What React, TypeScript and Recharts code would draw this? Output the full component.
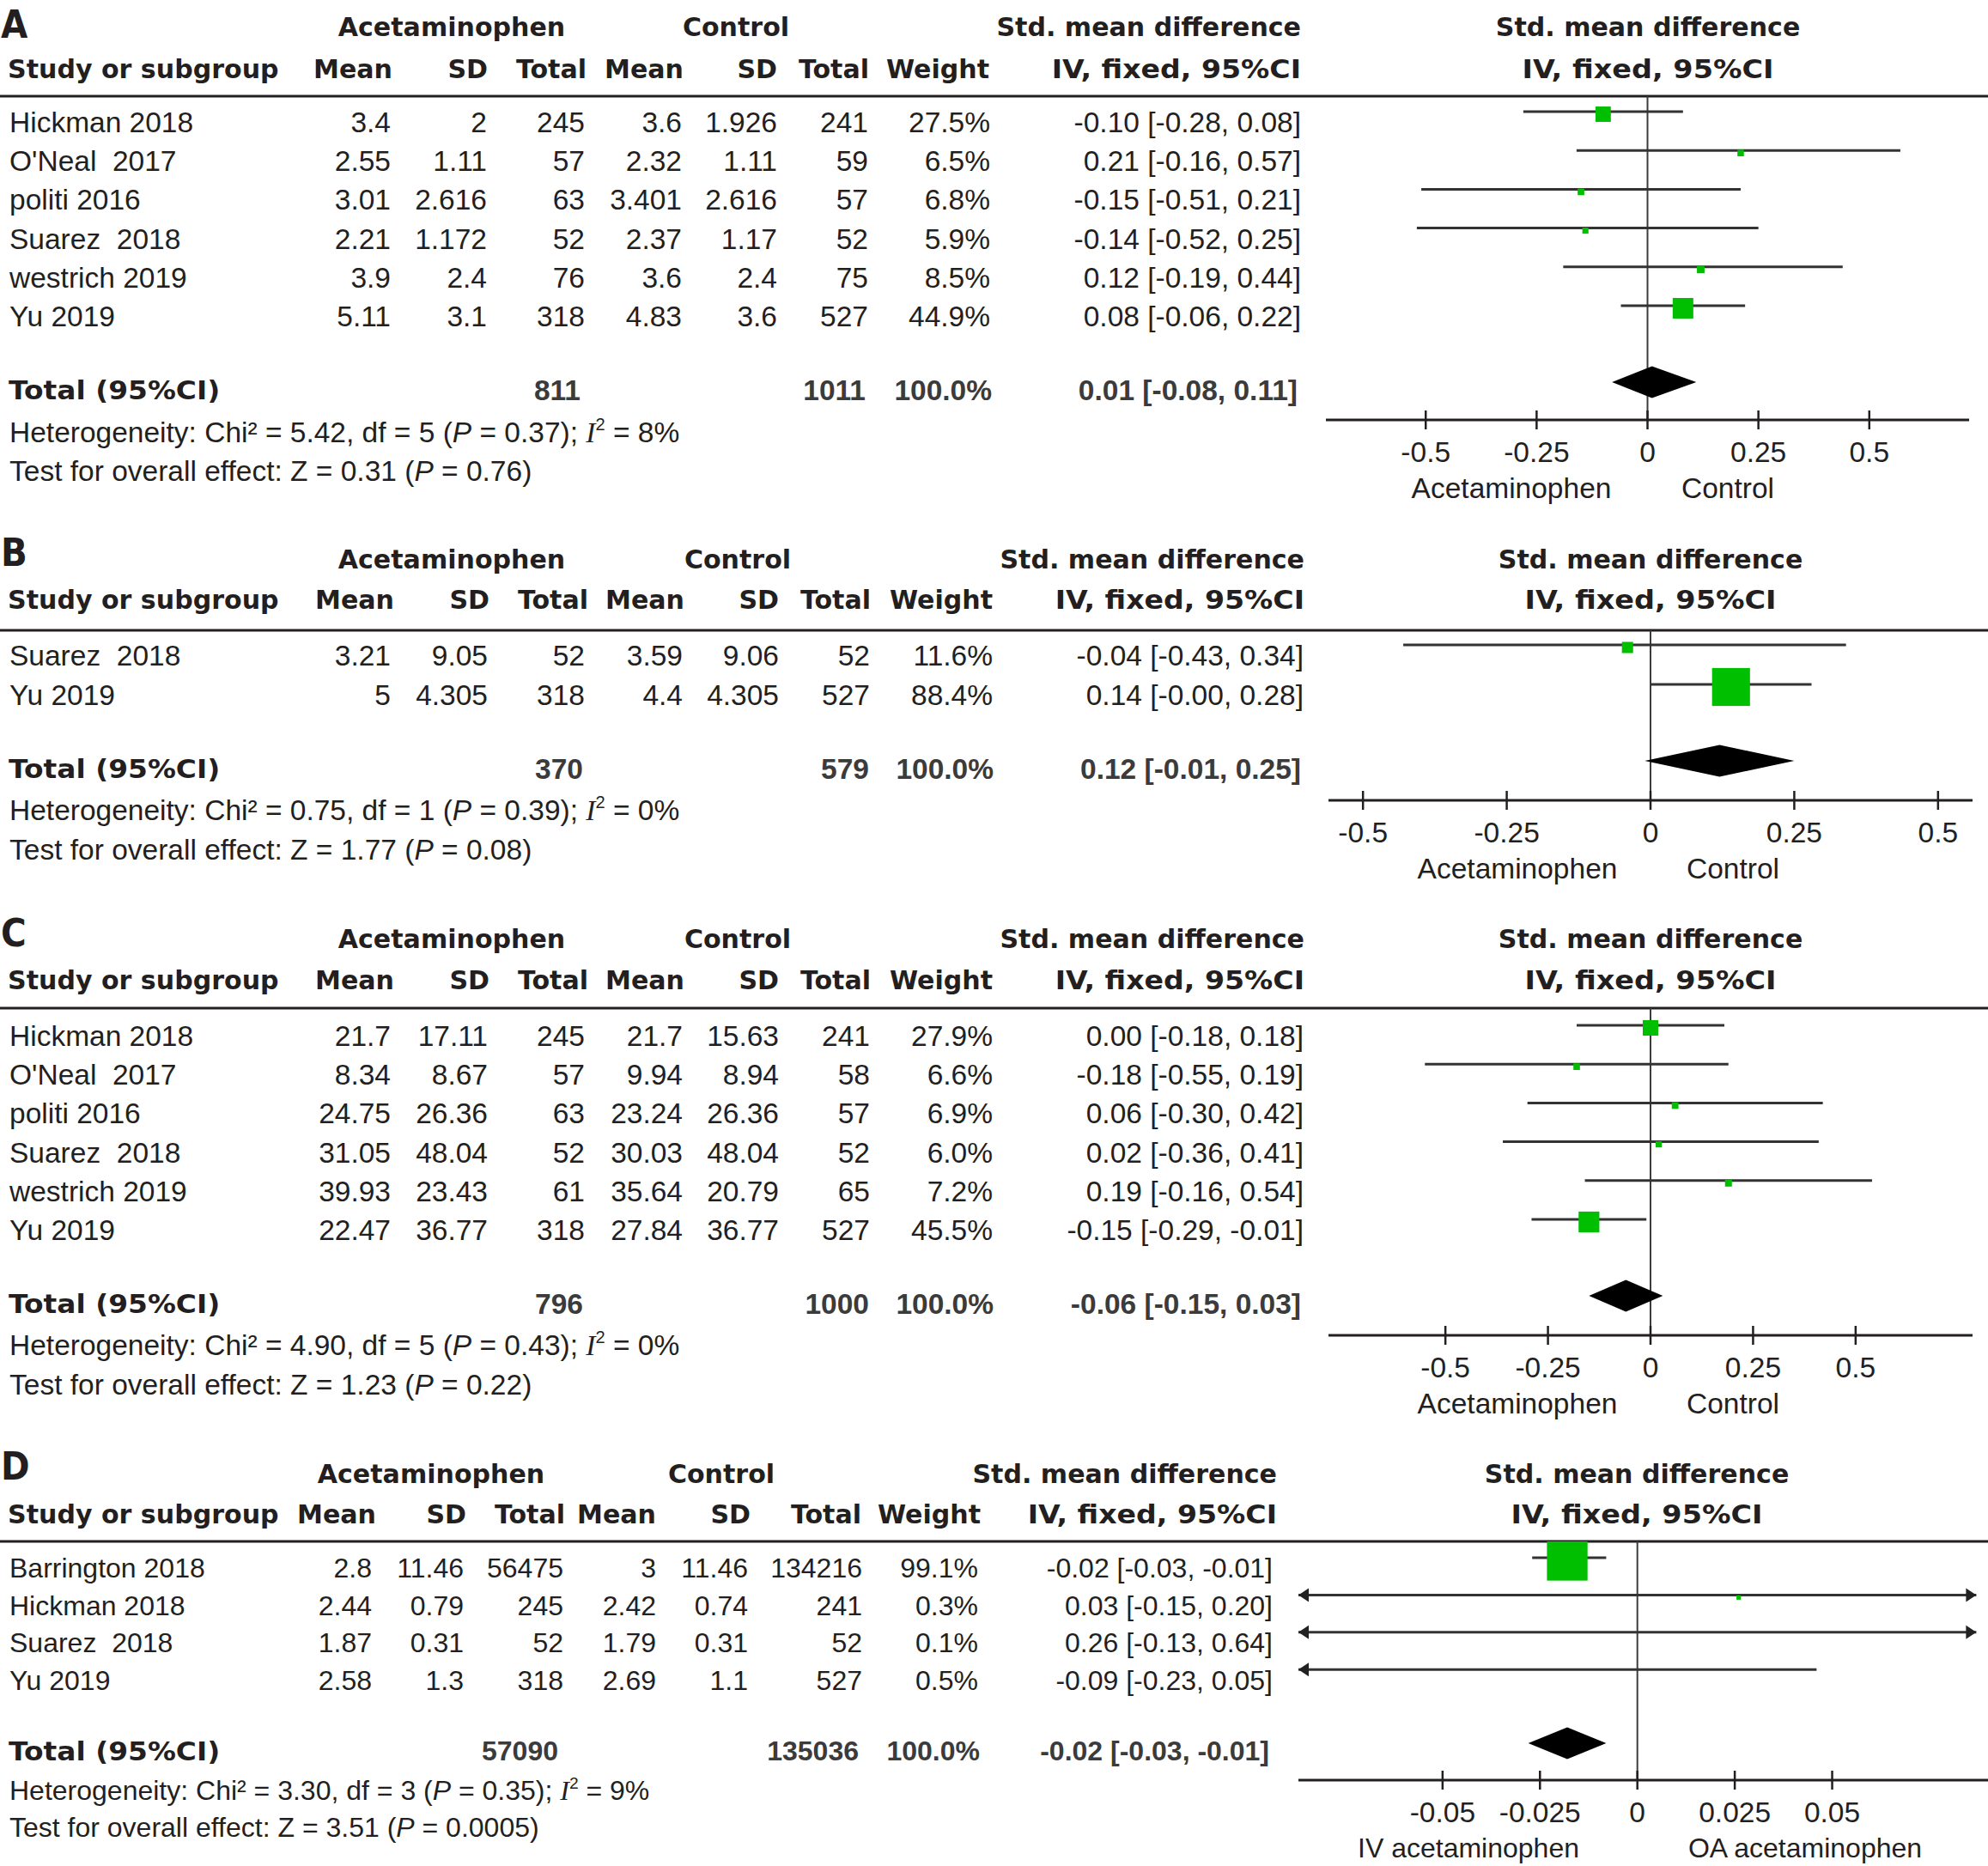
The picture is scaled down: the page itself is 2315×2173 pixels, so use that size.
import React from 'react';
import { ScatterChart, Scatter, XAxis, YAxis, ReferenceLine } from 'recharts';

const W = 2315;
const H = 2173;
const INK = '#231f20';
const GREEN = '#00bf00';
const SANS = '"Liberation Sans", Arial, sans-serif';
const HEAD = '"DejaVu Sans", Verdana, sans-serif';
const SERIF = '"Liberation Serif", "Times New Roman", serif';
const HSX = 0.97;
const AXIS_H = 70;

// ---- A ----
const aStudy = ['Hickman 2018', "O'Neal  2017", 'politi 2016', 'Suarez  2018', 'westrich 2019', 'Yu 2019'];
const aAcetMean = [3.4, 2.55, 3.01, 2.21, 3.9, 5.11];
const aAcetSd = [2, 1.11, 2.616, 1.172, 2.4, 3.1];
const aAcetN = [245, 57, 63, 52, 76, 318];
const aCtrlMean = [3.6, 2.32, 3.401, 2.37, 3.6, 4.83];
const aCtrlSd = [1.926, 1.11, 2.616, 1.17, 2.4, 3.6];
const aCtrlN = [241, 59, 57, 52, 75, 527];
const aWeight = [27.5, 6.5, 6.8, 5.9, 8.5, 44.9];
const aSmd = [-0.1, 0.21, -0.15, -0.14, 0.12, 0.08];
const aLo = [-0.28, -0.16, -0.51, -0.52, -0.19, -0.06];
const aHi = [0.08, 0.57, 0.21, 0.25, 0.44, 0.22];

// ---- B ----
const bStudy = ['Suarez  2018', 'Yu 2019'];
const bAcetMean = [3.21, 5];
const bAcetSd = [9.05, 4.305];
const bAcetN = [52, 318];
const bCtrlMean = [3.59, 4.4];
const bCtrlSd = [9.06, 4.305];
const bCtrlN = [52, 527];
const bWeight = [11.6, 88.4];
const bSmd = [-0.04, 0.14];
const bLo = [-0.43, -0];
const bHi = [0.34, 0.28];

// ---- C ----
const cStudy = ['Hickman 2018', "O'Neal  2017", 'politi 2016', 'Suarez  2018', 'westrich 2019', 'Yu 2019'];
const cAcetMean = [21.7, 8.34, 24.75, 31.05, 39.93, 22.47];
const cAcetSd = [17.11, 8.67, 26.36, 48.04, 23.43, 36.77];
const cAcetN = [245, 57, 63, 52, 61, 318];
const cCtrlMean = [21.7, 9.94, 23.24, 30.03, 35.64, 27.84];
const cCtrlSd = [15.63, 8.94, 26.36, 48.04, 20.79, 36.77];
const cCtrlN = [241, 58, 57, 52, 65, 527];
const cWeight = [27.9, 6.6, 6.9, 6.0, 7.2, 45.5];
const cSmd = [0.0, -0.18, 0.06, 0.02, 0.19, -0.15];
const cLo = [-0.18, -0.55, -0.3, -0.36, -0.16, -0.29];
const cHi = [0.18, 0.19, 0.42, 0.41, 0.54, -0.01];

// ---- D ----
const dStudy = ['Barrington 2018', 'Hickman 2018', 'Suarez  2018', 'Yu 2019'];
const dAcetMean = [2.8, 2.44, 1.87, 2.58];
const dAcetSd = [11.46, 0.79, 0.31, 1.3];
const dAcetN = [56475, 245, 52, 318];
const dCtrlMean = [3, 2.42, 1.79, 2.69];
const dCtrlSd = [11.46, 0.74, 0.31, 1.1];
const dCtrlN = [134216, 241, 52, 527];
const dWeight = [99.1, 0.3, 0.1, 0.5];
const dSmd = [-0.018, 0.026, 0.26, -0.09];
const dLo = [-0.027, -0.15, -0.13, -0.23];
const dHi = [-0.008, 0.2, 0.64, 0.046];

// ---- summaries, one entry per panel A..D ----
const panelLetter = ['A', 'B', 'C', 'D'];
const totalAcetN = [811, 370, 796, 57090];
const totalCtrlN = [1011, 579, 1000, 135036];
const pooledSmd = [0.01, 0.12, -0.06, -0.018];
const pooledLo = [-0.08, -0.01, -0.15, -0.028];
const pooledHi = [0.11, 0.25, 0.03, -0.008];
const hetChi2 = [5.42, 0.75, 4.9, 3.3];
const hetDf = [5, 1, 5, 3];
const hetP = [0.37, 0.39, 0.43, 0.35];
const hetI2 = [8, 0, 0, 9];
const overallZ = [0.31, 1.77, 1.23, 3.51];
const overallP = [0.76, 0.08, 0.22, 0.0005];
const favourLeft = ['Acetaminophen', 'Acetaminophen', 'Acetaminophen', 'IV acetaminophen'];
const favourRight = ['Control', 'Control', 'Control', 'OA acetaminophen'];
const smdTicks = [-0.5, -0.25, 0, 0.25, 0.5];
const smdTicksD = [-0.05, -0.025, 0, 0.025, 0.05];
const headLabels = ['Mean', 'SD', 'Total', 'Mean', 'SD', 'Total', 'Weight', 'IV, fixed, 95%CI'];

// ---- layout (pixels) ----
const LA = { letter: 28, h1: 31, h2: 80, line: 112, row0: 142, pitch: 45.2, total: 454, het: 503, test: 548, axis: 489, x0: 1544, x1: 2293, domain: [-0.725, 0.725], clip: [-0.725, 0.725], k: 2.45 };
const LB = { letter: 643, h1: 651, h2: 698, line: 734, row0: 763, pitch: 46, total: 895, het: 943, test: 989, axis: 932, x0: 1547, x1: 2297, domain: [-0.56, 0.56], clip: [-0.56, 0.56], k: 3 };
const LC = { letter: 1086, h1: 1093, h2: 1141, line: 1174, row0: 1206, pitch: 45.2, total: 1518, het: 1566, test: 1612, axis: 1555, x0: 1547, x1: 2297, domain: [-0.785, 0.785], clip: [-0.785, 0.785], k: 2.45 };
const LD = { letter: 1707, h1: 1716, h2: 1763, line: 1795, row0: 1826, pitch: 43.4, total: 2039, het: 2085, test: 2128, axis: 2073, x0: 1512, x1: 2315, domain: [-0.087, 0.09], clip: [-0.087, 0.087], k: 3 };

const colsA = { data: [455, 567, 681, 794, 905, 1011, 1153, 1515], head: [457, 568, 683, 796, 905, 1012, 1152, 1515], tot: [676, 1008, 1155, 1511], grp: [526, 857], smdR: 1515, plotC: 1919, fav: [1760, 2012], fs: 33.5 };
const colsBC = { data: [455, 568, 681, 795, 907, 1013, 1156, 1518], head: [459, 570, 685, 797, 907, 1014, 1156, 1519], tot: [679, 1012, 1157, 1515], grp: [526, 859], smdR: 1519, plotC: 1922, fav: [1767, 2018], fs: 33.5 };
const colsD = { data: [433, 540, 656, 764, 871, 1004, 1139, 1482], head: [438, 543, 658, 764, 874, 1003, 1142, 1487], tot: [650, 1000, 1141, 1478], grp: [502, 840], smdR: 1487, plotC: 1906, fav: [1710, 2102], fs: 32 };

const panels = [
  { L: LA, C: colsA, study: aStudy, am: aAcetMean, asd: aAcetSd, an: aAcetN, cm: aCtrlMean, csd: aCtrlSd, cn: aCtrlN, w: aWeight, smd: aSmd, lo: aLo, hi: aHi, ticks: smdTicks },
  { L: LB, C: colsBC, study: bStudy, am: bAcetMean, asd: bAcetSd, an: bAcetN, cm: bCtrlMean, csd: bCtrlSd, cn: bCtrlN, w: bWeight, smd: bSmd, lo: bLo, hi: bHi, ticks: smdTicks },
  { L: LC, C: colsBC, study: cStudy, am: cAcetMean, asd: cAcetSd, an: cAcetN, cm: cCtrlMean, csd: cCtrlSd, cn: cCtrlN, w: cWeight, smd: cSmd, lo: cLo, hi: cHi, ticks: smdTicks },
  { L: LD, C: colsD, study: dStudy, am: dAcetMean, asd: dAcetSd, an: dAcetN, cm: dCtrlMean, csd: dCtrlSd, cn: dCtrlN, w: dWeight, smd: dSmd, lo: dLo, hi: dHi, ticks: smdTicksD },
];

const fmt2 = (v: number) => (v < 0 || Object.is(v, -0) ? '-' : '') + Math.abs(v).toFixed(2);
const ciText = (e: number, l: number, h: number) => `${fmt2(e)} [${fmt2(l)}, ${fmt2(h)}]`;

// y is the vertical centre of the capitals
function Txt({ x, y, fs, anchor = 'start', bold = false, family = SANS, fill = INK, sx = 1, children }: any) {
  const base = y + fs * (family === HEAD ? 0.365 : 0.358);
  return (
    <text
      transform={`translate(${x},${base}) scale(${sx},1)`}
      textAnchor={anchor}
      fontSize={fs}
      fontWeight={bold ? 700 : 400}
      fontFamily={family}
      fill={fill}
      style={{ whiteSpace: 'pre' }}
    >
      {children}
    </text>
  );
}

function Head(props: any) {
  return <Txt fs={31} bold family={HEAD} sx={HSX} {...props} />;
}

function PanelText({ p, i }: any) {
  const { L, C } = p;
  const fs = C.fs;
  return (
    <g>
      <Txt x={1} y={L.letter} fs={44} bold family={HEAD} sx={0.92}>{panelLetter[i]}</Txt>
      <Head x={C.grp[0]} y={L.h1} anchor="middle">Acetaminophen</Head>
      <Head x={C.grp[1]} y={L.h1} anchor="middle">Control</Head>
      <Head x={C.smdR} y={L.h1} anchor="end">Std. mean difference</Head>
      <Head x={C.plotC} y={L.h1} anchor="middle">Std. mean difference</Head>
      <Head x={9} y={L.h2}>Study or subgroup</Head>
      {headLabels.map((h, j) => (
        <Head key={j} x={C.head[j]} y={L.h2} anchor="end" sx={j === 7 ? 1.07 : HSX}>{h}</Head>
      ))}
      <Head x={C.plotC} y={L.h2} anchor="middle" sx={1.08}>IV, fixed, 95%CI</Head>
      <line x1={0} x2={W} y1={L.line} y2={L.line} stroke={INK} strokeWidth={3} />

      {p.study.map((s: string, r: number) => {
        const y = L.row0 + r * L.pitch;
        const cells = [p.am[r], p.asd[r], p.an[r], p.cm[r], p.csd[r], p.cn[r]]
          .map(String)
          .concat([p.w[r].toFixed(1) + '%', ciText(p.smd[r], p.lo[r], p.hi[r])]);
        return (
          <g key={r}>
            <Txt x={11} y={y} fs={fs}>{s}</Txt>
            {cells.map((c: string, j: number) => (
              <Txt key={j} x={C.data[j]} y={y} fs={fs} anchor="end">{c}</Txt>
            ))}
          </g>
        );
      })}

      <Head x={10} y={L.total} sx={1.06}>Total (95%CI)</Head>
      {[String(totalAcetN[i]), String(totalCtrlN[i]), '100.0%', ciText(pooledSmd[i], pooledLo[i], pooledHi[i])].map((c, j) => (
        <Txt key={j} x={C.tot[j]} y={L.total} fs={fs} bold fill="#3b3b3b" anchor="end">{c}</Txt>
      ))}

      <Txt x={11} y={L.het} fs={fs}>
        {`Heterogeneity: Chi² = ${hetChi2[i].toFixed(2)}, df = ${hetDf[i]} (`}
        <tspan fontStyle="italic">P</tspan>
        {` = ${hetP[i]}); `}
        <tspan fontFamily={SERIF} fontStyle="italic">I</tspan>
        <tspan fontSize={fs * 0.6} dy={-fs * 0.42}>2</tspan>
        <tspan dy={fs * 0.42}>{` = ${hetI2[i]}%`}</tspan>
      </Txt>
      <Txt x={11} y={L.test} fs={fs}>
        {`Test for overall effect: Z = ${overallZ[i].toFixed(2)} (`}
        <tspan fontStyle="italic">P</tspan>
        {` = ${overallP[i]})`}
      </Txt>

      <Txt x={C.fav[0]} y={L.axis + 79} fs={fs} anchor="middle">{favourLeft[i]}</Txt>
      <Txt x={C.fav[1]} y={L.axis + 79} fs={fs} anchor="middle">{favourRight[i]}</Txt>
    </g>
  );
}

const renderTick = (t: any) => {
  const { x, y, payload } = t;
  return (
    <g>
      <line x1={x} x2={x} y1={y - 11} y2={y + 11} stroke={INK} strokeWidth={2.5} />
      <text x={x} y={y + 37 + 12} textAnchor="middle" fontFamily={SANS} fontSize={33.5} fill={INK}>
        {String(payload.value)}
      </text>
    </g>
  );
};

const noDot = () => <g />;

function Forest({ p, i }: any) {
  const { L } = p;
  const r0 = L.row0 - 12;
  const yMin = (L.line - r0) / L.pitch;
  const yMax = (L.axis - r0) / L.pitch;
  const totRow = (L.total - 9 - r0) / L.pitch;
  const half = 18.5 / L.pitch;
  const [c0, c1] = L.clip;

  const ciPts: any[] = [];
  const arrows: any[] = [];
  p.smd.forEach((_: number, r: number) => {
    ciPts.push({ x: Math.max(p.lo[r], c0), y: r }, { x: Math.min(p.hi[r], c1), y: r });
    if (p.lo[r] < c0) arrows.push({ x: c0, y: r, dir: -1 });
    if (p.hi[r] > c1) arrows.push({ x: c1, y: r, dir: 1 });
  });
  const boxes = p.smd
    .map((x: number, r: number) => ({ x, y: r, w: p.w[r] }))
    .filter((b: any) => b.x >= c0 && b.x <= c1);
  const diamond = [
    { x: pooledLo[i], y: totRow },
    { x: pooledSmd[i], y: totRow - half },
    { x: pooledHi[i], y: totRow },
    { x: pooledSmd[i], y: totRow + half },
  ];

  const plotH = L.axis - L.line;
  return (
    <div style={{ position: 'absolute', left: L.x0, top: L.line }}>
      <ScatterChart width={L.x1 - L.x0} height={plotH + AXIS_H} margin={{ top: 0, right: 0, bottom: 0, left: 0 }}>
        <XAxis
          type="number"
          dataKey="x"
          domain={L.domain}
          allowDataOverflow
          ticks={p.ticks}
          interval={0}
          tickLine={false}
          tickSize={0}
          tickMargin={0}
          height={AXIS_H}
          axisLine={{ stroke: INK, strokeWidth: 3 }}
          tick={renderTick}
        />
        <YAxis type="number" dataKey="y" domain={[yMin, yMax]} reversed hide allowDataOverflow />
        <ReferenceLine x={0} stroke="#3c3c3c" strokeWidth={2} />
        <Scatter
          data={ciPts}
          isAnimationActive={false}
          shape={noDot}
          lineType="joint"
          line={(lp: any) => {
            const pts = lp.points || [];
            const segs = [];
            for (let k = 0; k + 1 < pts.length; k += 2) {
              segs.push(
                <line key={k} x1={pts[k].x} y1={pts[k].y} x2={pts[k + 1].x} y2={pts[k + 1].y} stroke="#333" strokeWidth={3} />
              );
            }
            return <g>{segs}</g>;
          }}
        />
        <Scatter
          data={arrows}
          isAnimationActive={false}
          shape={(s: any) => {
            const d = s.payload.dir;
            return (
              <polygon
                points={`${s.cx},${s.cy} ${s.cx - d * 12},${s.cy - 8} ${s.cx - d * 12},${s.cy + 8}`}
                fill="#222"
              />
            );
          }}
        />
        <Scatter
          data={boxes}
          isAnimationActive={false}
          shape={(s: any) => {
            const side = Math.max(5, L.k * Math.pow(s.payload.w, 0.6));
            return <rect x={s.cx - side / 2} y={s.cy - side / 2 + 3} width={side} height={side} fill={GREEN} />;
          }}
        />
        <Scatter
          data={diamond}
          isAnimationActive={false}
          shape={noDot}
          lineType="joint"
          line={(lp: any) => (
            <polygon points={(lp.points || []).map((q: any) => `${q.x},${q.y}`).join(' ')} fill="#000" />
          )}
        />
      </ScatterChart>
    </div>
  );
}

export default function App() {
  return (
    <div style={{ position: 'absolute', left: 0, top: 0, width: W, height: H, background: '#fff', overflow: 'hidden' }}>
      <svg width={W} height={H} style={{ position: 'absolute', left: 0, top: 0 }}>
        {panels.map((p, i) => (
          <PanelText key={i} p={p} i={i} />
        ))}
      </svg>
      {panels.map((p, i) => (
        <Forest key={i} p={p} i={i} />
      ))}
    </div>
  );
}
